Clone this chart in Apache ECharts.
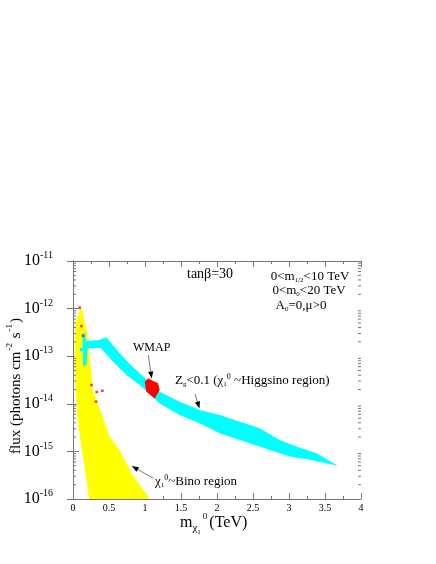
<!DOCTYPE html>
<html>
<head>
<meta charset="utf-8">
<script src="https://cdn.jsdelivr.net/npm/echarts@6/dist/echarts.min.js"></script>
<style>
  html, body { margin: 0; padding: 0; background: #fff; }
  #main { width: 436px; height: 564px; }
</style>
</head>
<body>
<div id="main"></div>
<script>
  // tick labels
  const xTickLabels = ['0', '0.5', '1', '1.5', '2', '2.5', '3', '3.5', '4'];

  // chi_1^0 ~ Bino region (yellow), [m (TeV), flux]
  const binoRegion = [
    [0.117, 1.09e-12], [0.190, 3.52e-13], [0.239, 8.3e-14], [0.278, 1.95e-14],
    [0.51, 2.04e-15], [0.649, 1.07e-15], [0.694, 7.8e-16], [0.811, 3.5e-16],
    [1.065, 1e-16], [0.222, 1e-16], [0.139, 7.8e-16], [0.069, 3.96e-15],
    [0.033, 1.95e-14], [0.024, 1.34e-13], [0.031, 4.5e-13], [0.079, 8.0e-13]
  ];

  // Zg < 0.1 Higgsino band (cyan)
  const higgsinoBand = [
    [0.131, 3.05e-13], [0.176, 3.05e-13], [0.176, 2.07e-13], [0.357, 2.18e-13],
    [0.464, 2.51e-13], [0.649, 1.16e-13], [0.788, 6.83e-14], [0.926, 4.36e-14],
    [1.204, 1.79e-14], [1.482, 1.11e-14], [1.760, 7.41e-15], [2.038, 5.82e-15],
    [2.315, 4.22e-15], [2.593, 3.06e-15], [2.871, 1.74e-15], [3.103, 1.26e-15],
    [3.381, 9.17e-16], [3.681, 4.97e-16],
    [3.288, 6.64e-16], [3.010, 7.78e-16], [2.732, 1.07e-15], [2.454, 1.49e-15],
    [2.315, 1.74e-15], [2.038, 2.41e-15], [1.760, 3.90e-15], [1.482, 5.82e-15],
    [1.204, 1.02e-14], [0.926, 2.48e-14], [0.742, 4.02e-14], [0.556, 7.64e-14],
    [0.385, 1.48e-13], [0.204, 1.48e-13], [0.190, 6.51e-14], [0.139, 6.2e-14],
    [0.139, 1.28e-13], [0.093, 1.28e-13], [0.093, 1.48e-13], [0.135, 1.48e-13]
  ];

  // WMAP region (red)
  const wmapRegion = [
    [0.996, 2.90e-14], [1.042, 3.42e-14], [1.181, 2.69e-14],
    [1.204, 1.95e-14], [1.135, 1.30e-14], [1.019, 1.79e-14]
  ];

  // isolated WMAP points
  const wmapPoints = [
    [0.093, 1.05e-12], [0.117, 4.28e-13], [0.139, 2.68e-13],
    [0.256, 2.48e-14], [0.329, 1.77e-14], [0.408, 1.88e-14], [0.319, 1.11e-14]
  ];

  const serif = '"Liberation Serif", "DejaVu Serif", serif';

  // log minor tick positions (2..9 x 10^k)
  const yMinorTicks = [];
  for (let k = -16; k < -11; k++) {
    for (let m = 2; m <= 9; m++) yMinorTicks.push(m * Math.pow(10, k));
  }

  function polygonSeries(points, color, z) {
    return {
      type: 'custom',
      data: points,
      z: z,
      silent: true,
      renderItem: function (params, api) {
        if (params.dataIndex !== 0) return;
        return {
          type: 'polygon',
          shape: { points: points.map(p => api.coord(p)) },
          style: { fill: color }
        };
      },
      clip: true
    };
  }

  function arrow(x1, y1, x2, y2) {
    const a = Math.atan2(y2 - y1, x2 - x1);
    const L = 7, W = 2.6;
    const bx = x2 - L * Math.cos(a), by = y2 - L * Math.sin(a);
    const px = -Math.sin(a) * W, py = Math.cos(a) * W;
    return [
      { type: 'line', shape: { x1: x1, y1: y1, x2: bx, y2: by }, style: { stroke: '#555', lineWidth: 0.8 } },
      { type: 'polygon', shape: { points: [[x2, y2], [bx + px, by + py], [bx - px, by - py]] }, style: { fill: '#000' } }
    ];
  }

  const n = { fontSize: 13, fontFamily: serif, color: '#000' };
  const s = { fontSize: 7, fontFamily: serif, color: '#000', padding: [6, 0, 0, 0] };
  const p = { fontSize: 8, fontFamily: serif, color: '#000', padding: [0, 0, 9, 0] };

  const main = document.getElementById('main');
  const chart = echarts.init(main);

  const option = {
    backgroundColor: '#fff',
    animation: false,
    grid: { left: 73, top: 261, width: 288, height: 238, containLabel: false },
    xAxis: [{
      type: 'value', min: 0, max: 4, interval: 0.5, position: 'bottom',
      axisLine: { lineStyle: { color: '#777', width: 1 } },
      axisTick: { inside: true, length: 6, lineStyle: { color: '#777' } },
      minorTick: { show: true, splitNumber: 2, length: 3, lineStyle: { color: '#777' } },
      splitLine: { show: false },
      axisLabel: {
        margin: 4, fontSize: 10, fontFamily: serif, color: '#000',
        formatter: v => xTickLabels[Math.round(v / 0.5)]
      }
    }, {
      type: 'value', min: 0, max: 4, interval: 0.5, position: 'top',
      axisLine: { lineStyle: { color: '#777', width: 1 } },
      axisTick: { inside: true, length: 6, lineStyle: { color: '#777' } },
      minorTick: { show: true, splitNumber: 2, length: 3, lineStyle: { color: '#777' } },
      splitLine: { show: false },
      axisLabel: { show: false }
    }],
    yAxis: [{
      type: 'log', logBase: 10, min: 1e-16, max: 1e-11, position: 'left',
      axisLine: { show: true, lineStyle: { color: '#777', width: 1 } },
      axisTick: { show: true, inside: true, length: 6, lineStyle: { color: '#777' } },
      splitLine: { show: false },
      axisLabel: {
        margin: 20, color: '#000',
        formatter: v => '{b|10}{e|' + Math.round(Math.log10(v)) + '}',
        rich: {
          b: { fontSize: 16, fontFamily: serif, color: '#000' },
          e: { fontSize: 10, fontFamily: serif, color: '#000', padding: [0, 0, 11, 0] }
        }
      }
    }, {
      type: 'log', logBase: 10, min: 1e-16, max: 1e-11, position: 'right',
      axisLine: { show: true, lineStyle: { color: '#777', width: 1 } },
      axisTick: { show: true, inside: true, length: 6, lineStyle: { color: '#777' } },
      splitLine: { show: false },
      axisLabel: { show: false }
    }],
    series: [
      polygonSeries(binoRegion, '#ffff00', 1),
      polygonSeries(higgsinoBand, '#00ffff', 2),
      polygonSeries(wmapRegion, '#ff0000', 3),
      {
        type: 'scatter', data: wmapPoints, z: 4, silent: true,
        symbol: 'rect', symbolSize: 2.5, itemStyle: { color: '#ff0000' }
      },
      {
        type: 'custom', data: yMinorTicks.map(v => [0, v]), z: 5, silent: true, clip: false,
        renderItem: function (params, api) {
          const v = api.value(1);
          const l = api.coord([0, v]);
          const r = api.coord([4, v]);
          return {
            type: 'group',
            children: [
              { type: 'line', shape: { x1: l[0], y1: l[1], x2: l[0] + 3, y2: l[1] }, style: { stroke: '#777', lineWidth: 1 } },
              { type: 'line', shape: { x1: r[0] - 3, y1: r[1], x2: r[0], y2: r[1] }, style: { stroke: '#777', lineWidth: 1 } }
            ]
          };
        }
      }
    ],
    graphic: [
      { type: 'text', x: 187, y: 274, style: { text: 'tanβ=30', font: '14px ' + serif, fill: '#000', align: 'left', verticalAlign: 'middle' } },
      { type: 'text', x: 310, y: 277, style: { text: '{n|0<m}{s|1/2}{n|<10 TeV}', rich: { n: n, s: s }, align: 'center', verticalAlign: 'middle' } },
      { type: 'text', x: 309, y: 291, style: { text: '{n|0<m}{s|0}{n|<20 TeV}', rich: { n: n, s: s }, align: 'center', verticalAlign: 'middle' } },
      { type: 'text', x: 301, y: 306, style: { text: '{n|A}{s|0}{n|=0,μ>0}', rich: { n: n, s: s }, align: 'center', verticalAlign: 'middle' } },
      { type: 'text', x: 133, y: 348, style: { text: 'WMAP', font: '12px ' + serif, fill: '#000', align: 'left', verticalAlign: 'middle' } },
      { type: 'text', x: 175, y: 381, style: { text: '{n|Z}{s|g}{n|<0.1 (χ}{s|1}{p|0}{n| ~Higgsino region)}', rich: { n: n, s: s, p: p }, align: 'left', verticalAlign: 'middle' } },
      { type: 'text', x: 155, y: 482, style: { text: '{n|χ}{s|1}{p|0}{n|~Bino region}', rich: { n: n, s: s, p: p }, align: 'left', verticalAlign: 'middle' } },
      {
        type: 'text', x: 180, y: 523,
        style: {
          text: '{n|m}{s|χ}{ss|1}{p|0}{n|(TeV)}',
          rich: {
            n: { fontSize: 16, fontFamily: serif, color: '#000' },
            s: { fontSize: 11, fontFamily: serif, color: '#000', padding: [10, 0, 0, 0] },
            ss: { fontSize: 7, fontFamily: serif, color: '#000', padding: [18, 0, 0, 0] },
            p: { fontSize: 9, fontFamily: serif, color: '#000', padding: [0, 2, 12, 2] }
          },
          align: 'left', verticalAlign: 'middle'
        }
      },
      {
        type: 'text', x: 16, y: 386, rotation: Math.PI / 2,
        style: {
          text: '{n|flux (photons cm}{p|-2}{n| s}{p|-1}{n|)}',
          rich: {
            n: { fontSize: 15, fontFamily: serif, color: '#000' },
            p: { fontSize: 9, fontFamily: serif, color: '#000', padding: [0, 1, 12, 1] }
          },
          align: 'center', verticalAlign: 'middle'
        }
      },
      { type: 'group', children: arrow(148.3, 355, 151.7, 378.5) },
      { type: 'group', children: arrow(195, 394, 199.5, 408.5) },
      { type: 'group', children: arrow(153.3, 478.3, 131.7, 466) }
    ]
  };
  chart.setOption(option);
</script>
</body>
</html>
